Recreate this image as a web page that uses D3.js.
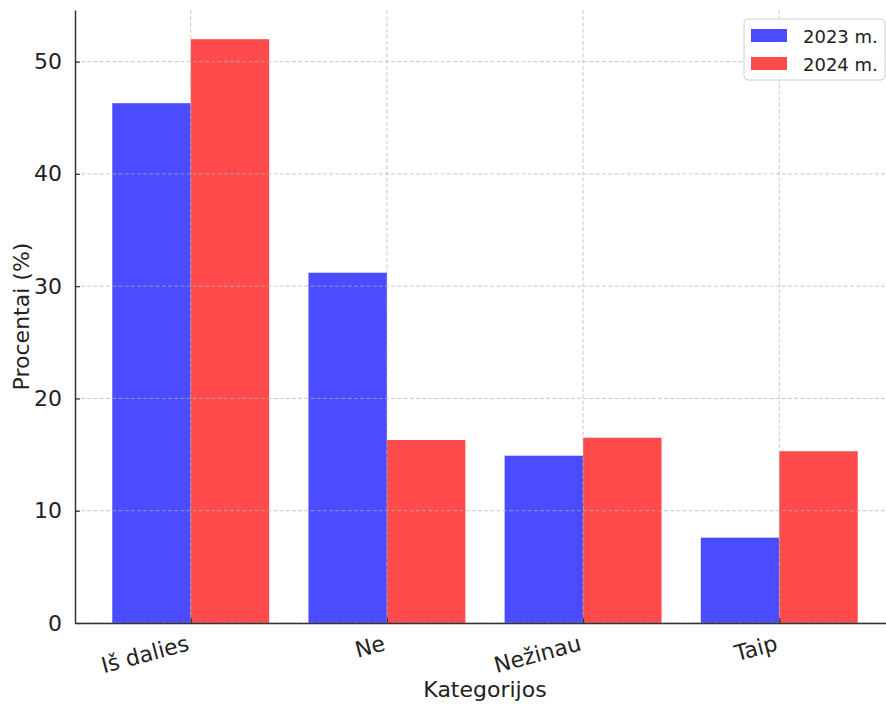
<!DOCTYPE html>
<html><head><meta charset="utf-8">
<script src="https://cdn.jsdelivr.net/npm/d3@7/dist/d3.min.js"></script>
<style>
html,body{margin:0;padding:0;background:#fff;}
svg{display:block;font-family:"DejaVu Sans",sans-serif;}
</style></head>
<body>
<script>
const categories = ["Iš dalies", "Ne", "Nežinau", "Taip"];
const seriesNames = ["2023 m.", "2024 m."];
const values2023 = [46.3, 31.2, 14.9, 7.6];
const values2024 = [52.0, 16.3, 16.5, 15.3];
const yTicks = [0, 10, 20, 30, 40, 50];
const colors = ["#4b4bff", "#ff4b4b"];

(function () {
const W = 886, H = 704;
const pLeft = 75, pBottom = 623, pTop = 10, pRight = 895;
const svg = d3.select("body").append("svg").attr("width", W).attr("height", H);

const x = d3.scaleLinear().domain([-0.59, 3.59]).range([pLeft, pRight]);
const y = d3.scaleLinear().domain([0, 54.6]).range([pBottom, pTop]);
const barW = 0.4;

const series = [values2023, values2024];
const g = svg.append("g");

// bars
series.forEach((vals, si) => {
  g.selectAll(".bar" + si).data(vals).enter().append("rect")
    .attr("x", (d, i) => x(i + (si === 0 ? -barW : 0)))
    .attr("width", x(barW) - x(0))
    .attr("y", d => y(d))
    .attr("height", d => y(0) - y(d))
    .attr("fill", colors[si]);
});

// grid (on top)
const grid = svg.append("g").attr("stroke", "#b0b0b0").attr("stroke-opacity", 0.7)
  .attr("stroke-width", 1).attr("stroke-dasharray", "4,2.2");
grid.selectAll(".hg").data(yTicks).enter().append("line")
  .attr("x1", pLeft).attr("x2", pRight).attr("y1", d => y(d)).attr("y2", d => y(d));
grid.selectAll(".vg").data(categories).enter().append("line")
  .attr("x1", (d, i) => x(i)).attr("x2", (d, i) => x(i)).attr("y1", pTop).attr("y2", pBottom);

// y axis
const yAxis = d3.axisLeft(y).tickValues(yTicks).tickSizeInner(-5).tickSizeOuter(0).tickPadding(13);
const ya = svg.append("g").attr("transform", `translate(${pLeft},0)`).call(yAxis);
ya.select(".domain").attr("stroke", "#333").attr("stroke-width", 1.5);
ya.selectAll(".tick line").attr("stroke", "#333").attr("stroke-width", 1.2);
ya.selectAll(".tick text").attr("font-size", 22).attr("fill", "#222")
  .attr("font-family", "DejaVu Sans");

// x axis
const xAxis = d3.axisBottom(x).tickValues(d3.range(categories.length))
  .tickFormat(i => categories[i]).tickSizeInner(-5).tickSizeOuter(0);
const xa = svg.append("g").attr("transform", `translate(0,${pBottom})`).call(xAxis);
xa.select(".domain").attr("stroke", "#333").attr("stroke-width", 1.5);
xa.selectAll(".tick line").attr("stroke", "#333").attr("stroke-width", 1.2);
xa.selectAll(".tick text").attr("font-size", 22).attr("fill", "#222")
  .attr("font-family", "DejaVu Sans")
  .attr("text-anchor", "end").attr("dy", null).attr("y", null)
  .attr("transform", "translate(-1,27) rotate(-15)");

// axis labels
svg.append("text").attr("x", (pLeft + pRight) / 2).attr("y", 697)
  .attr("text-anchor", "middle").attr("font-size", 22).attr("fill", "#222")
  .text("Kategorijos");
svg.append("text").attr("transform", `translate(29,${(pTop + pBottom) / 2}) rotate(-90)`)
  .attr("text-anchor", "middle").attr("font-size", 22).attr("fill", "#222")
  .text("Procentai (%)");

// legend
const lg = svg.append("g");
lg.append("rect").attr("x", 744).attr("y", 19).attr("width", 141).attr("height", 61)
  .attr("rx", 4).attr("fill", "#fff").attr("fill-opacity", 0.8)
  .attr("stroke", "#d0d0d0").attr("stroke-width", 1);
seriesNames.forEach((name, i) => {
  lg.append("rect").attr("x", 751).attr("y", 29 + i * 28).attr("width", 36).attr("height", 13)
    .attr("fill", colors[i]);
  lg.append("text").attr("x", 803).attr("y", 43 + i * 28).attr("font-size", 18)
    .attr("fill", "#222").text(name);
});
})();
</script>
</body></html>
